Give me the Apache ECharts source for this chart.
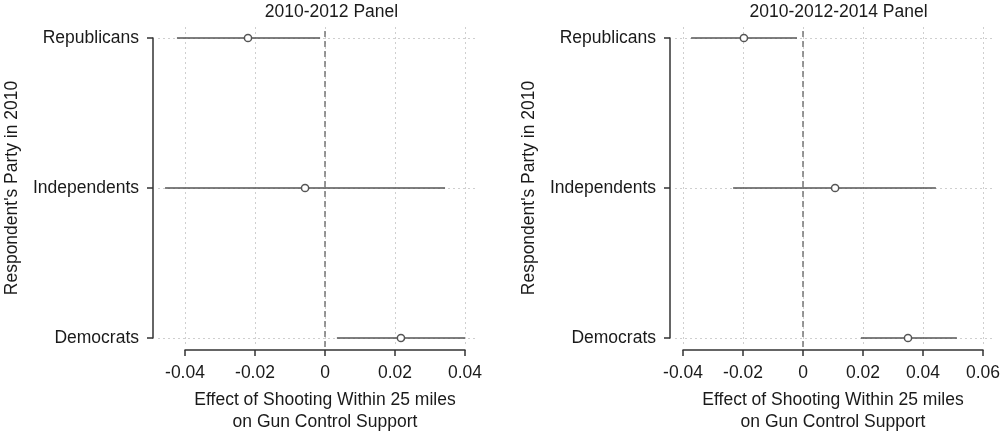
<!DOCTYPE html>
<html>
<head>
<meta charset="utf-8">
<script src="https://cdn.jsdelivr.net/npm/echarts@6/dist/echarts.min.js"></script>
<style>
html,body{margin:0;padding:0;background:#fff;}
#chart{width:1000px;height:431px;}
</style>
</head>
<body>
<div id="chart"></div>
<script>
// ---- data ----
const categories = ['Republicans', 'Independents', 'Democrats'];
const panelTitles = ['2010-2012 Panel', '2010-2012-2014 Panel'];
const xAxisTitle = 'Effect of Shooting Within 25 miles\non Gun Control Support';
const yAxisTitle = "Respondent's Party in 2010";

// 2010-2012 panel
const p1Low  = [-0.0423, -0.0457, 0.0034];
const p1Est  = [-0.0220, -0.0057, 0.0217];
const p1High = [-0.0014,  0.0343, 0.0400];
// 2010-2012-2014 panel
const p2Low  = [-0.0373, -0.0233, 0.0193];
const p2Est  = [-0.0197,  0.0107, 0.0350];
const p2High = [-0.0020,  0.0443, 0.0513];

const p1Ticks = {min: -0.04, max: 0.04, interval: 0.02};
const p2Ticks = {min: -0.04, max: 0.06, interval: 0.02};

// ---- styles ----
const FONT = 'Liberation Sans, Arial, Helvetica, sans-serif';
const FS = 17.5;
const TXT = '#1a1a1a';
const AX = '#333';
const BAR = '#555';
const GRIDC = '#cfcfcf';

function buildData(lo, est, hi) {
  return categories.map((c, i) => [lo[i], est[i], hi[i], c]);
}

function renderItem(params, api) {
  const lo = api.coord([api.value(0), api.value(3)]);
  const mid = api.coord([api.value(1), api.value(3)]);
  const hi = api.coord([api.value(2), api.value(3)]);
  return {
    type: 'group',
    children: [
      {type: 'line', shape: {x1: lo[0], y1: lo[1], x2: hi[0], y2: hi[1]},
       style: {stroke: BAR, lineWidth: 1.6}},
      {type: 'circle', shape: {cx: mid[0], cy: mid[1], r: 3.6},
       style: {fill: '#fff', stroke: BAR, lineWidth: 1.5}}
    ]
  };
}

// panel layout (pixels)
const panels = [
  {dataLeft: 158, dataRight: 475, axLeft: 185, axRight: 465, pxPerUnit: 3500, zeroPx: 325,
   ticks: p1Ticks, lo: p1Low, est: p1Est, hi: p1High, title: panelTitles[0]},
  {dataLeft: 675, dataRight: 992, axLeft: 683, axRight: 983, pxPerUnit: 3000, zeroPx: 803,
   ticks: p2Ticks, lo: p2Low, est: p2Est, hi: p2High, title: panelTitles[1]}
];

const grid = [], xAxis = [], yAxis = [], series = [], title = [];
panels.forEach((p, k) => {
  const gData = grid.length;
  grid.push({left: p.dataLeft, width: p.dataRight - p.dataLeft, top: 38, height: 300,
    containLabel: false, outerBoundsMode: 'none'});
  const gAx = grid.length;
  grid.push({left: p.axLeft, width: p.axRight - p.axLeft, top: 27, height: 320,
    containLabel: false, outerBoundsMode: 'none'});

  // data grid axes: x range matches the tick axis scale
  const dMin = (p.dataLeft - p.zeroPx) / p.pxPerUnit;
  const dMax = (p.dataRight - p.zeroPx) / p.pxPerUnit;
  const xd = xAxis.length;
  xAxis.push({type: 'value', gridIndex: gData, min: dMin, max: dMax, show: false,
    axisLine: {onZero: false}, splitLine: {show: false}});
  const yd = yAxis.length;
  yAxis.push({
    type: 'category', gridIndex: gData, data: categories, inverse: true, boundaryGap: false,
    position: 'left', offset: 5,
    axisLine: {show: true, onZero: false, lineStyle: {color: AX, width: 1.5}},
    axisTick: {show: true, length: 6, lineStyle: {color: AX, width: 1.5}},
    axisLabel: {color: TXT, fontFamily: FONT, fontSize: FS, margin: 14},
    splitLine: {show: true, lineStyle: {color: GRIDC, type: [2, 3], width: 1}},
    name: yAxisTitle, nameLocation: 'middle', nameGap: 132,
    nameTextStyle: {color: TXT, fontFamily: FONT, fontSize: FS}
  });

  // tick axis grid
  const xa = xAxis.length;
  xAxis.push({
    type: 'value', gridIndex: gAx, position: 'bottom', offset: 3,
    min: p.ticks.min, max: p.ticks.max, interval: p.ticks.interval,
    axisLine: {show: true, onZero: false, lineStyle: {color: AX, width: 1.5}},
    axisTick: {show: true, length: 6, lineStyle: {color: AX, width: 1.5}},
    axisLabel: {color: TXT, fontFamily: FONT, fontSize: FS, margin: 14,
      formatter: v => (Math.abs(v) < 1e-9 ? '0' : String(+v.toFixed(2)))},
    splitLine: {show: true, lineStyle: {color: GRIDC, type: [2, 3], width: 1}},
    name: xAxisTitle, nameLocation: 'middle', nameGap: 39,
    nameTextStyle: {color: TXT, fontFamily: FONT, fontSize: FS, lineHeight: 22, verticalAlign: 'top'}
  });
  const ya = yAxis.length;
  yAxis.push({type: 'value', gridIndex: gAx, min: 0, max: 1, show: false,
    axisLine: {onZero: false}, splitLine: {show: false}});

  series.push({
    type: 'scatter', xAxisIndex: xa, yAxisIndex: ya, data: [], silent: true,
    markLine: {
      silent: true, symbol: 'none', label: {show: false},
      lineStyle: {color: '#777', type: [6, 4], width: 1.5},
      data: [{xAxis: 0}]
    }
  });
  series.push({
    type: 'custom', xAxisIndex: xd, yAxisIndex: yd, renderItem: renderItem,
    encode: {x: [0, 1, 2], y: 3},
    data: buildData(p.lo, p.est, p.hi), z: 5
  });

  title.push({
    text: p.title, left: (p.dataLeft + p.dataRight) / 2 + (k === 0 ? 10 : 0), top: -2, textAlign: 'center',
    textStyle: {color: TXT, fontFamily: FONT, fontSize: FS, fontWeight: 'normal'}
  });
});

const chart = echarts.init(document.getElementById('chart'), null, {renderer: 'canvas'});
chart.setOption({
  backgroundColor: '#fff',
  animation: false,
  title: title,
  grid: grid,
  xAxis: xAxis,
  yAxis: yAxis,
  series: series
});
</script>
</body>
</html>
